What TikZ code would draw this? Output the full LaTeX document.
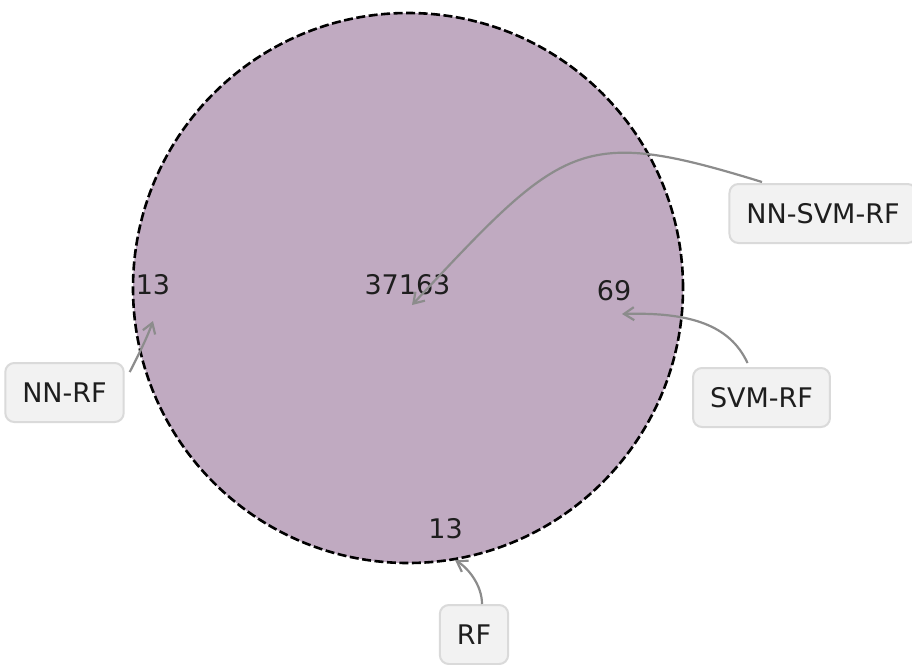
\documentclass[tikz,border=0pt]{standalone}
\usepackage{fontspec}
\setmainfont{DejaVu Sans}
\usetikzlibrary{arrows.meta}
\definecolor{setfill}{RGB}{192,170,193}
\definecolor{boxfill}{RGB}{242,242,242}
\definecolor{boxline}{RGB}{218,218,218}
\definecolor{arrowgray}{RGB}{140,140,140}
\definecolor{numtext}{RGB}{30,30,30}
\tikzset{
  setcircle/.style={draw=black, fill=setfill, line width=2.6pt, dash pattern=on 9pt off 3.5pt},
  numlabel/.style={text=numtext, inner sep=0pt, font=\fontsize{27}{32}\selectfont},
  tagbox/.style={draw=boxline, fill=boxfill, line width=2pt, rounded corners=9pt,
    inner xsep=17pt, inner ysep=0pt, minimum height=59pt, text=numtext,
    font=\fontsize{27}{32}\selectfont},
  pointer/.style={draw=arrowgray, line width=2.2pt, -{Straight Barb[length=10pt,width=13pt]}}
}
\begin{document}
\begin{tikzpicture}[x=1pt,y=-1pt]
\useasboundingbox (0,0) rectangle (912,664);
\fill[white] (0,0) rectangle (912,664);
\node[setcircle, circle, minimum size=550pt, inner sep=0pt] (set) at (408,288) {};
\node[numlabel] (nleft) at (153,285) {13};
\node[numlabel] (ncenter) at (407.5,285) {37163};
\node[numlabel] (nright) at (614,291) {69};
\node[numlabel] (nbottom) at (445.5,529) {13};
\coordinate (tipall) at (412,305);
\coordinate (tipnnrf) at (153,321);
\coordinate (tipsvmrf) at (622,314);
\coordinate (tiprf) at (455,560);
\node[tagbox] (bnnsvmrf) at (823,213.5) {NN-SVM-RF};
\node[tagbox] (bnnrf) at (64.5,392.5) {NN-RF};
\node[tagbox] (bsvmrf) at (761.5,397.5) {SVM-RF};
\node[tagbox] (brf) at (474,634.5) {RF};
\draw[pointer] ([xshift=-61pt,yshift=1pt]bnnsvmrf.north) .. controls (580,126) and (564,142) .. (tipall);
\draw[pointer] ([xshift=5pt,yshift=-10pt]bnnrf.north east) .. controls (137,358) and (147,338) .. (tipnnrf);
\draw[pointer] ([xshift=-14pt,yshift=4pt]bsvmrf.north) .. controls (730,325) and (690,312) .. (tipsvmrf);
\draw[pointer] ([xshift=8pt]brf.north) .. controls (482,585) and (468,568) .. (tiprf);
\end{tikzpicture}
\end{document}
